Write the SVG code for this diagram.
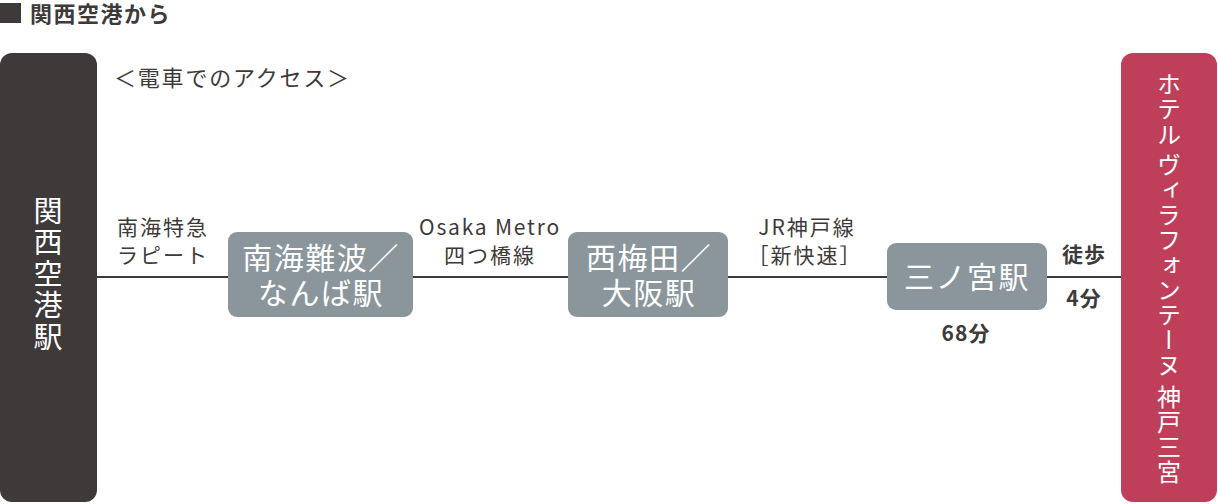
<svg xmlns="http://www.w3.org/2000/svg" width="1218" height="504" viewBox="0 0 1218 504">
<style>
text{font-family:"Noto Sans CJK JP","Noto Sans",sans-serif;}
.dark{fill:#3e3a39;}
.station{fill:#8a969b;}
.hotel{fill:#bf3f5b;}
.st{fill:#ffffff;font-size:30px;letter-spacing:1.5px;text-anchor:middle;}
.lbl{fill:#3e3a39;font-size:21px;letter-spacing:2px;}
.bold{fill:#3e3a39;font-size:21px;font-weight:bold;letter-spacing:1px;text-anchor:middle;}
.vert{writing-mode:vertical-rl;fill:#ffffff;}
.conn{stroke:#3e3a39;stroke-width:2;fill:none;}
</style>
<g id="header">
<rect class="dark" x="0" y="3" width="21" height="20"/>
<text x="30" y="22" style="font-size:22px;font-weight:bold;letter-spacing:1.5px;fill:#3e3a39">関西空港から</text>
<text x="114" y="86" style="font-size:22px;letter-spacing:1.8px;fill:#3e3a39">＜電車でのアクセス＞</text>
</g>
<g id="connectors">
<line class="conn" x1="97" y1="277" x2="228" y2="277"/>
<line class="conn" x1="413" y1="277" x2="568" y2="277"/>
<line class="conn" x1="728" y1="277" x2="887" y2="277"/>
<line class="conn" x1="1047" y1="277" x2="1121" y2="277"/>
</g>
<g id="kansai-airport">
<rect class="dark" x="0" y="53" width="97" height="449" rx="12"/>
<text class="vert" x="48" y="196" style="font-size:29px;letter-spacing:2.5px">関西空港駅</text>
</g>
<g id="label-nankai">
<text class="lbl" x="117" y="235">南海特急</text>
<text class="lbl" x="117" y="263">ラピート</text>
</g>
<g id="namba">
<rect class="station" x="228" y="232" width="185" height="85" rx="9"/>
<text class="st" x="321" y="269">南海難波／</text>
<text class="st" x="321" y="304">なんば駅</text>
</g>
<g id="label-metro">
<text class="lbl" x="490" y="235" text-anchor="middle" style="letter-spacing:1.8px">Osaka Metro</text>
<text class="lbl" x="490" y="263" text-anchor="middle">四つ橋線</text>
</g>
<g id="umeda">
<rect class="station" x="568" y="232" width="160" height="85" rx="9"/>
<text class="st" x="649" y="269">西梅田／</text>
<text class="st" x="649" y="304">大阪駅</text>
</g>
<g id="label-jr">
<text class="lbl" x="807" y="235" text-anchor="middle">JR神戸線</text>
<text class="lbl" x="805" y="263" text-anchor="middle">［新快速］</text>
</g>
<g id="sannomiya">
<rect class="station" x="887" y="243" width="160" height="67" rx="9"/>
<text class="st" x="967" y="288">三ノ宮駅</text>
<text class="bold" x="966" y="341">68分</text>
</g>
<g id="label-walk">
<text class="bold" x="1084" y="262">徒歩</text>
<text class="bold" x="1084" y="306">4分</text>
</g>
<g id="hotel">
<rect class="hotel" x="1121" y="53" width="96" height="449" rx="12"/>
<text class="vert" x="1169" y="72" style="font-size:24px;letter-spacing:1px">ホテル ヴィラフォンテーヌ 神戸三宮</text>
</g>
</svg>
